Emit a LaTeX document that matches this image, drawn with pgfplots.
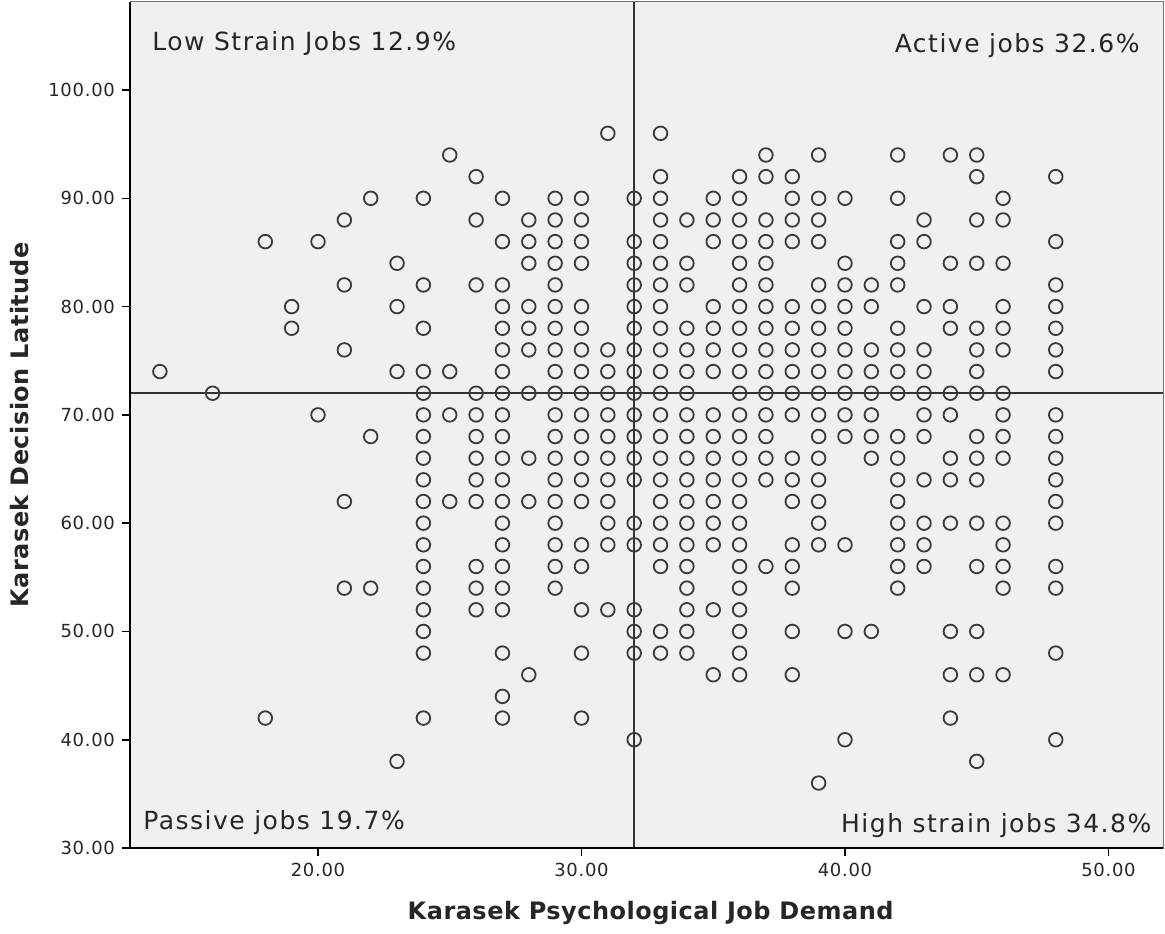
\documentclass[border=0pt]{standalone}
\usepackage{fontspec}
\setmainfont{DejaVu Sans}
\newfontfamily\tickfont[LetterSpace=4]{DejaVu Sans}
\newfontfamily\quadfont[LetterSpace=6]{DejaVu Sans}
\newfontfamily\labfont[LetterSpace=2]{DejaVu Sans}
\usepackage{pgfplots}
\pgfplotsset{compat=1.18}
\definecolor{bg}{HTML}{F0F0F0}
\definecolor{mk}{HTML}{3A3A3A}
\pgfplotstableread{
x y
14 74
16 72
18 86
18 42
19 80
19 78
20 86
20 70
21 88
21 82
21 76
21 62
21 54
22 90
22 68
22 54
23 84
23 80
23 74
23 38
24 90
24 82
24 78
24 74
24 72
24 70
24 68
24 66
24 64
24 62
24 60
24 58
24 56
24 54
24 52
24 50
24 48
24 42
25 94
25 74
25 70
25 62
26 92
26 88
26 82
26 72
26 70
26 68
26 66
26 64
26 62
26 56
26 54
26 52
27 90
27 86
27 82
27 80
27 78
27 76
27 74
27 72
27 70
27 68
27 66
27 64
27 62
27 60
27 58
27 56
27 54
27 52
27 48
27 44
27 42
28 88
28 86
28 84
28 80
28 78
28 76
28 72
28 66
28 62
28 46
29 90
29 88
29 86
29 84
29 82
29 80
29 78
29 76
29 74
29 72
29 70
29 68
29 66
29 64
29 62
29 60
29 58
29 56
29 54
30 90
30 88
30 86
30 84
30 80
30 78
30 76
30 74
30 72
30 70
30 68
30 66
30 64
30 62
30 58
30 56
30 52
30 48
30 42
31 96
31 76
31 74
31 72
31 70
31 68
31 66
31 64
31 62
31 60
31 58
31 52
32 90
32 86
32 84
32 82
32 80
32 78
32 76
32 74
32 72
32 70
32 68
32 66
32 64
32 60
32 58
32 52
32 50
32 48
32 40
33 96
33 92
33 90
33 88
33 86
33 84
33 82
33 80
33 78
33 76
33 74
33 72
33 70
33 68
33 66
33 64
33 62
33 60
33 58
33 56
33 50
33 48
34 88
34 84
34 82
34 78
34 76
34 74
34 72
34 70
34 68
34 66
34 64
34 62
34 60
34 58
34 56
34 54
34 52
34 50
34 48
35 90
35 88
35 86
35 80
35 78
35 76
35 74
35 70
35 68
35 66
35 64
35 62
35 60
35 58
35 52
35 46
36 92
36 90
36 88
36 86
36 84
36 82
36 80
36 78
36 76
36 74
36 72
36 70
36 68
36 66
36 64
36 62
36 60
36 58
36 56
36 54
36 52
36 50
36 48
36 46
37 94
37 92
37 88
37 86
37 84
37 82
37 80
37 78
37 76
37 74
37 72
37 70
37 68
37 66
37 64
37 56
38 92
38 90
38 88
38 86
38 80
38 78
38 76
38 74
38 72
38 70
38 66
38 64
38 62
38 58
38 56
38 54
38 50
38 46
39 94
39 90
39 88
39 86
39 82
39 80
39 78
39 76
39 74
39 72
39 70
39 68
39 66
39 64
39 62
39 60
39 58
39 36
40 90
40 84
40 82
40 80
40 78
40 76
40 74
40 72
40 70
40 68
40 58
40 50
40 40
41 82
41 80
41 76
41 74
41 72
41 70
41 68
41 66
41 50
42 94
42 90
42 86
42 84
42 82
42 78
42 76
42 74
42 72
42 68
42 66
42 64
42 62
42 60
42 58
42 56
42 54
43 88
43 86
43 80
43 76
43 74
43 72
43 70
43 68
43 64
43 60
43 58
43 56
44 94
44 84
44 80
44 78
44 72
44 70
44 66
44 64
44 60
44 50
44 46
44 42
45 94
45 92
45 88
45 84
45 78
45 76
45 74
45 72
45 68
45 66
45 64
45 60
45 56
45 50
45 46
45 38
46 90
46 88
46 84
46 80
46 78
46 76
46 72
46 70
46 68
46 66
46 60
46 58
46 56
46 54
46 46
48 92
48 86
48 82
48 80
48 78
48 76
48 74
48 70
48 68
48 66
48 64
48 62
48 60
48 56
48 54
48 48
48 40
}\pts
\begin{document}
\begin{tikzpicture}
\begin{axis}[
  width=516.5pt, height=423pt, scale only axis,
  xmin=12.865, xmax=52.07, ymin=30, ymax=108.13,
  axis background/.style={fill=bg},
  axis line style={draw=black!55, line width=0.5pt},
  xtick={20,30,40,50}, xticklabels={20.00,30.00,40.00,50.00},
  ytick={30,40,50,60,70,80,90,100},
  yticklabels={30.00,40.00,50.00,60.00,70.00,80.00,90.00,100.00},
  tick align=outside, major tick length=4pt,
  tick style={black, line width=0.8pt},
  xtick pos=bottom, ytick pos=left,
  tick label style={font=\tickfont\fontsize{9}{10}\selectfont, text=black!85},
  clip=false,
]
\addplot[only marks, mark=o, mark size=3.4pt, mark options={draw=mk, line width=0.9pt}] table[x=x,y=y] {\pts};
\addplot[black!80, line width=1.1pt, no marks] coordinates {(32,30) (32,108.13)};
\addplot[black!80, line width=1.1pt, no marks] coordinates {(12.865,72) (52.07,72)};
\draw[black, line width=1pt] (rel axis cs:0,1) -- (rel axis cs:0,0) -- (rel axis cs:1,0);
\node[anchor=west, inner sep=0pt, font=\quadfont\fontsize{12.5}{14}\selectfont, text=black!85] at (rel axis cs:0.0213,0.9515) {Low Strain Jobs 12.9\%};
\node[anchor=east, inner sep=0pt, font=\quadfont\fontsize{12.5}{14}\selectfont, text=black!85] at (rel axis cs:0.9777,0.948) {Active jobs 32.6\%};
\node[anchor=west, inner sep=0pt, font=\quadfont\fontsize{12.5}{14}\selectfont, text=black!85] at (rel axis cs:0.0126,0.0296) {Passive jobs 19.7\%};
\node[anchor=east, inner sep=0pt, font=\quadfont\fontsize{12.5}{14}\selectfont, text=black!85] at (rel axis cs:0.989,0.026) {High strain jobs 34.8\%};
\coordinate (bl) at (rel axis cs:0,0);
\coordinate (tr) at (rel axis cs:1,1);
\coordinate (yl) at (rel axis cs:0,0.5);
\coordinate (xl) at (rel axis cs:0.504,0);
\end{axis}
\node[rotate=90, font=\labfont\bfseries\fontsize{12}{14}\selectfont, text=black!85] at ([xshift=-55pt]yl) {Karasek Decision Latitude};
\node[font=\labfont\bfseries\fontsize{12}{14}\selectfont, text=black!85] at ([yshift=-32.5pt]xl) {Karasek Psychological Job Demand};
\pgfresetboundingbox
\path ([shift={(-65pt,-42.5pt)}]bl) rectangle ([shift={(1pt,1pt)}]tr);
\end{tikzpicture}
\end{document}
